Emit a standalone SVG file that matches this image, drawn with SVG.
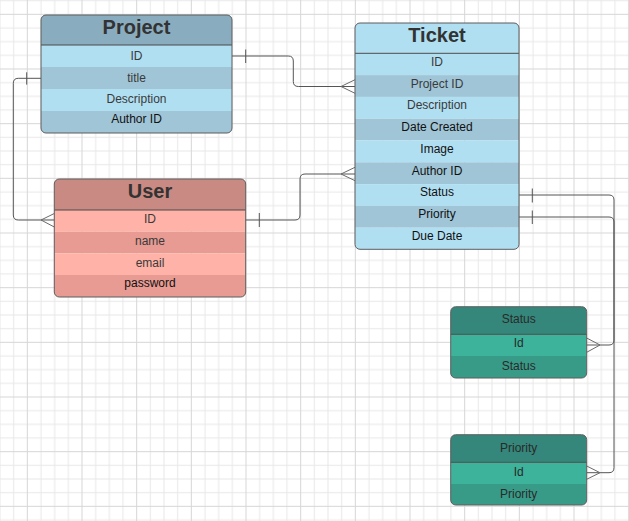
<svg xmlns="http://www.w3.org/2000/svg" width="629" height="521" viewBox="0 0 629 521">
<style>
.minor{stroke:#e8e8e8;stroke-width:1;fill:none}
.major{stroke:#d6d6d6;stroke-width:1;fill:none}
.box{fill:none;stroke:#5c5c5c;stroke-width:1}
.sep{stroke:#4a4a4a;stroke-width:1}
.title{font-family:"Liberation Sans",Arial,sans-serif;font-size:20px;font-weight:bold;fill:#333;text-anchor:middle}
.row{font-family:"Liberation Sans",Arial,sans-serif;font-size:12px;fill:#3a3a3a;text-anchor:middle}
.dk{fill:#111}
.hdr{font-family:"Liberation Sans",Arial,sans-serif;font-size:12px;fill:#2a2a2a;text-anchor:middle}
.conn{fill:none;stroke:#555;stroke-width:1}
.crow{fill:none;stroke:#6a6a6a;stroke-width:1}
.pl{fill:#b1dff2}.pd{fill:#a0c5d7}.ph{fill:#8aacbf}
.ul{fill:#ffb2a7}.ud{fill:#e89b93}.uh{fill:#c98a83}
.sh{fill:#34877a}.sl{fill:#3db39b}.sd{fill:#389b88}
</style>
<defs>
<pattern id="grid" patternUnits="userSpaceOnUse" x="26.833" y="13.833" width="54.667" height="54.667">
<path class="minor" d="M14.167,0V54.667M27.833,0V54.667M41.5,0V54.667M0,14.167H54.667M0,27.833H54.667M0,41.5H54.667"/>
<path class="major" d="M0.5,0V54.667M0,0.5H54.667"/>
</pattern>
<clipPath id="cpP"><rect x="41" y="15" width="191" height="118" rx="5"/></clipPath>
<clipPath id="cpU"><rect x="54.3" y="179" width="191.4" height="118" rx="5"/></clipPath>
<clipPath id="cpT"><rect x="355" y="23" width="164" height="226.3" rx="5"/></clipPath>
<clipPath id="cpS"><rect x="450.7" y="306.7" width="136" height="71.3" rx="5"/></clipPath>
<clipPath id="cpR"><rect x="450.7" y="434.7" width="136" height="70.3" rx="5"/></clipPath>
</defs>
<rect width="629" height="521" fill="#fff"/>
<rect width="629" height="521" fill="url(#grid)"/>

<g id="connectors">
<path class="conn" d="M232,56H288.3Q293.3,56 293.3,61V81.5Q293.3,86.5 298.3,86.5H355"/>
<path class="conn" d="M245.7,49.5V63"/>
<path class="crow" d="M341,86.5L355,79.7M341,86.5L355,93.3"/>
<path class="conn" d="M41,78.3H18.3Q13.3,78.3 13.3,83.3V215Q13.3,220 18.3,220H54.3"/>
<path class="conn" d="M26.7,72.3V84.6"/>
<path class="crow" d="M41,220L54.3,213.5M41,220L54.3,227"/>
<path class="conn" d="M245.7,220H295Q300,220 300,215V179Q300,174 305,174H355"/>
<path class="conn" d="M259.3,213V227"/>
<path class="crow" d="M341,174L355,167.3M341,174L355,180.7"/>
<path class="conn" d="M519,195H609Q614,195 614,200V340Q614,345 609,345H586.7"/>
<path class="conn" d="M532.3,188.5V202.5"/>
<path class="crow" d="M600,345L586.7,338M600,345L586.7,352.3"/>
<path class="conn" d="M519,217H609Q614,217 614,222V467.7Q614,472.7 609,472.7H586.7"/>
<path class="conn" d="M532.3,210.5V224"/>
<path class="crow" d="M600,472.7L586.7,466M600,472.7L586.7,479.3"/>
</g>

<g id="project">
<g clip-path="url(#cpP)">
<rect class="ph" x="41" y="15" width="191" height="30"/>
<rect class="pl" x="41" y="45" width="191" height="22"/>
<rect class="pd" x="41" y="67" width="191" height="22"/>
<rect class="pl" x="41" y="89" width="191" height="22"/>
<rect class="pd" x="41" y="111" width="191" height="22"/>
</g>
<line class="sep" x1="41" y1="45" x2="232" y2="45"/>
<rect class="box" x="41" y="15" width="191" height="118" rx="5"/>
<text class="title" x="136.5" y="34">Project</text>
<text class="row" x="136.5" y="60">ID</text>
<text class="row" x="136.5" y="81.5">title</text>
<text class="row" x="136.5" y="102.7">Description</text>
<text class="row dk" x="136.5" y="122.7">Author ID</text>
</g>

<g id="user">
<g clip-path="url(#cpU)">
<rect class="uh" x="54.3" y="179" width="191.4" height="31"/>
<rect class="ul" x="54.3" y="210" width="191.4" height="21.7"/>
<rect class="ud" x="54.3" y="231.7" width="191.4" height="21.6"/>
<rect class="ul" x="54.3" y="253.3" width="191.4" height="21.7"/>
<rect class="ud" x="54.3" y="275" width="191.4" height="22"/>
</g>
<line class="sep" x1="54.3" y1="210" x2="245.7" y2="210"/>
<rect class="box" x="54.3" y="179" width="191.4" height="118" rx="5"/>
<text class="title" x="150" y="198.3">User</text>
<text class="row" x="150" y="223.3">ID</text>
<text class="row" x="150" y="245">name</text>
<text class="row" x="150" y="267.3">email</text>
<text class="row dk" x="150" y="286.5">password</text>
</g>

<g id="ticket">
<g clip-path="url(#cpT)">
<rect class="pl" x="355" y="23" width="164" height="30.3"/>
<rect class="pl" x="355" y="53.3" width="164" height="21.8"/>
<rect class="pd" x="355" y="75.1" width="164" height="21.8"/>
<rect class="pl" x="355" y="96.9" width="164" height="21.8"/>
<rect class="pd" x="355" y="118.7" width="164" height="21.8"/>
<rect class="pl" x="355" y="140.5" width="164" height="21.8"/>
<rect class="pd" x="355" y="162.3" width="164" height="21.8"/>
<rect class="pl" x="355" y="184.1" width="164" height="21.8"/>
<rect class="pd" x="355" y="205.9" width="164" height="21.8"/>
<rect class="pl" x="355" y="227.7" width="164" height="21.8"/>
</g>
<line class="sep" x1="355" y1="53.3" x2="519" y2="53.3"/>
<rect class="box" x="355" y="23" width="164" height="226.3" rx="5"/>
<text class="title" x="437" y="42">Ticket</text>
<text class="row" x="437" y="66">ID</text>
<text class="row" x="437" y="87.5">Project ID</text>
<text class="row" x="437" y="109.3">Description</text>
<text class="row dk" x="437" y="131.1">Date Created</text>
<text class="row dk" x="437" y="152.9">Image</text>
<text class="row dk" x="437" y="174.9">Author ID</text>
<text class="row dk" x="437" y="196.4">Status</text>
<text class="row dk" x="437" y="218.1">Priority</text>
<text class="row dk" x="437" y="240">Due Date</text>
</g>

<g id="status">
<g clip-path="url(#cpS)">
<rect class="sh" x="450.7" y="306.7" width="136" height="27.6"/>
<rect class="sl" x="450.7" y="334.3" width="136" height="21.7"/>
<rect class="sd" x="450.7" y="356" width="136" height="22"/>
</g>
<line class="sep" x1="450.7" y1="334.3" x2="586.7" y2="334.3"/>
<rect class="box" x="450.7" y="306.7" width="136" height="71.3" rx="5"/>
<text class="hdr" x="518.7" y="323.3">Status</text>
<text class="hdr" x="518.7" y="347.3">Id</text>
<text class="hdr" x="518.7" y="370">Status</text>
</g>

<g id="priority">
<g clip-path="url(#cpR)">
<rect class="sh" x="450.7" y="434.7" width="136" height="27.6"/>
<rect class="sl" x="450.7" y="462.3" width="136" height="21.7"/>
<rect class="sd" x="450.7" y="484" width="136" height="21"/>
</g>
<line class="sep" x1="450.7" y1="462.3" x2="586.7" y2="462.3"/>
<rect class="box" x="450.7" y="434.7" width="136" height="70.3" rx="5"/>
<text class="hdr" x="518.7" y="451.7">Priority</text>
<text class="hdr" x="518.7" y="475.7">Id</text>
<text class="hdr" x="518.7" y="497.7">Priority</text>
</g>
</svg>
